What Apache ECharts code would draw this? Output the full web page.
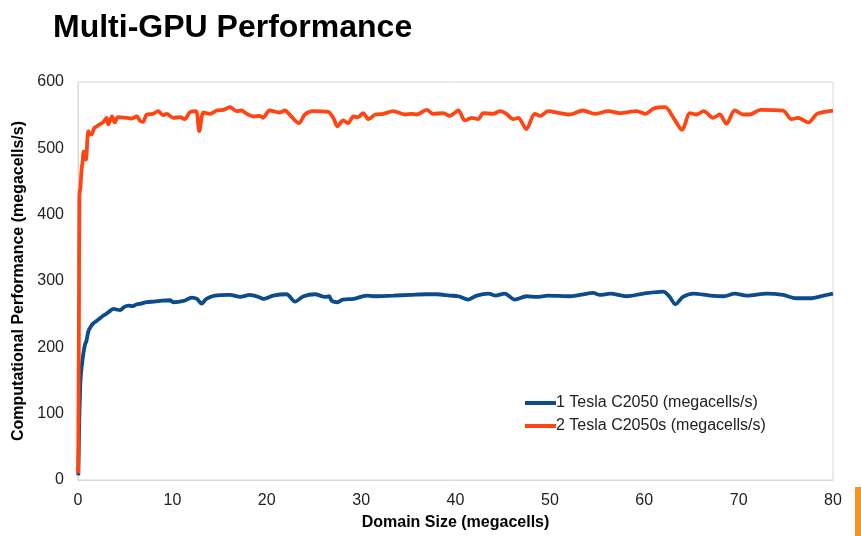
<!DOCTYPE html>
<html>
<head>
<meta charset="utf-8">
<script src="https://cdn.jsdelivr.net/npm/echarts@6/dist/echarts.min.js"></script>
<style>html,body{margin:0;padding:0;background:#fff}#c{width:861px;height:536px}</style>
</head>
<body>
<div id="c"></div>
<script>
var titleText = 'Multi-GPU Performance';
var xAxisName = 'Domain Size (megacells)';
var yAxisName = 'Computational Performance (megacells/s)';
var seriesNames = ['1 Tesla C2050 (megacells/s)', '2 Tesla C2050s (megacells/s)'];

var x1 = [0.03,0.1,0.14,0.2,0.28,0.5,0.74,0.9,1.09,1.3,1.62,2.0,2.33,2.7,3.04,3.4,3.74,4.1,4.45,4.9,5.33,5.8,6.22,6.7,7.28,8.0,8.69,9.75,10.1,11.2,12.05,12.6,13.1,13.6,14.5,16.1,17.2,18.2,19.3,19.6,20.7,22.1,23.0,23.9,25.1,26.2,26.6,26.9,27.5,28.05,29.2,30.6,31.3,33.4,35.2,36.95,38.0,39.4,40.3,41.35,42.25,43.5,44.2,45.2,46.3,47.5,48.6,49.8,52.1,53.2,54.6,55.3,56.4,58.1,59.9,62.0,62.65,63.3,64.1,65.2,67.0,68.4,69.6,70.85,73.0,74.7,76.1,77.6,79.0,80.0];
var y1 = [7,60,94,125,154,184,204,210,224,230,236,240,244,248,251,255,258,257,256,261,263,262,265,266,268,269,270,271,268,270,275,273,266,273,278,279,276,279,275,273,278,280,269,277,280,276,277,270,268,272,273,278,277,278,279,280,280,278,277,272,278,281,278,281,272,277,276,278,277,279,282,279,281,277,281,284,277,265,276,281,278,277,281,278,281,279,274,274,278,281];

var x2 = [0.02,0.1,0.15,0.25,0.39,0.5,0.6,0.74,0.85,1.0,1.09,1.3,1.45,1.7,1.98,2.3,2.65,3.04,3.2,3.6,3.9,4.24,5.19,5.69,6.22,6.6,6.9,7.28,7.95,8.5,9.0,9.4,10.1,10.8,11.3,11.9,12.5,12.85,13.3,14.0,14.7,15.4,16.1,16.8,17.3,17.9,18.6,19.3,19.6,20.3,21.4,21.9,22.6,23.4,24.05,24.9,26.5,27.05,27.5,28.1,28.6,29.2,29.7,30.2,30.8,31.5,32.35,33.4,34.65,35.35,35.9,36.95,37.65,38.7,39.4,40.3,41.0,41.7,42.4,42.95,44.0,44.7,45.4,46.1,46.65,47.5,48.4,49.0,49.8,51.1,52.1,53.5,54.8,56.2,57.4,59.2,60.1,61.0,62.2,63.1,64.0,64.85,65.55,66.3,67.3,68.0,68.7,69.6,70.5,71.2,72.3,74.7,75.6,76.3,77.4,78.3,80.0];
var y2 = [10,250,430,440,470,480,495,494,483,515,526,521,521,530,533,536,539,546,536,548,539,547,546,545,548,541,540,551,552,556,550,552,546,547,544,555,556,526,554,552,557,558,562,556,557,552,548,549,546,557,554,557,548,538,551,556,555,546,533,542,538,548,547,553,544,551,552,556,551,552,551,558,552,553,549,557,542,546,544,553,552,556,552,544,546,529,552,549,556,553,551,557,552,556,553,556,552,560,562,546,528,553,551,556,546,551,537,557,551,551,558,557,544,546,539,552,557];

function pairs(xs, ys){ var o=[]; for(var i=0;i<xs.length;i++) o.push([xs[i], ys[i]]); return o; }

var chart = echarts.init(document.getElementById('c'), null, {renderer:'canvas'});
chart.setOption({
  animation: false,
  backgroundColor: '#ffffff',
  title: {
    text: titleText, left: 48, top: 7,
    textStyle: {fontFamily: 'Liberation Sans, Arial, sans-serif', fontSize: 32, fontWeight: 'bold', color: '#000'}
  },
  grid: {left: 78, right: 28, top: 82, bottom: 52, show: true, borderColor: '#d9d9d9', borderWidth: 1},
  legend: {
    orient: 'vertical', left: 520, top: 390, itemGap: 7, itemWidth: 31, itemHeight: 4,
    icon: 'rect',
    textStyle: {fontFamily: 'Liberation Sans, Arial, sans-serif', fontSize: 16, color: '#222', padding: [0,0,0,-5]},
    data: seriesNames
  },
  xAxis: {
    type: 'value', min: 0, max: 80, interval: 10,
    name: xAxisName, nameLocation: 'middle', nameGap: 35,
    nameTextStyle: {fontFamily: 'Liberation Sans, Arial, sans-serif', fontSize: 16, fontWeight: 'bold', color: '#000'},
    axisLine: {show: true, lineStyle: {color: '#d9d9d9'}},
    axisTick: {show: false},
    splitLine: {show: false},
    axisLabel: {fontFamily: 'Liberation Sans, Arial, sans-serif', fontSize: 16, color: '#222', margin: 13}
  },
  yAxis: {
    type: 'value', min: 0, max: 600, interval: 100,
    name: yAxisName, nameLocation: 'middle', nameGap: 47, nameRotate: 90,
    nameTextStyle: {fontFamily: 'Liberation Sans, Arial, sans-serif', fontSize: 16, fontWeight: 'bold', color: '#000'},
    axisLine: {show: true, lineStyle: {color: '#d9d9d9'}},
    axisTick: {show: false},
    splitLine: {show: false},
    axisLabel: {fontFamily: 'Liberation Sans, Arial, sans-serif', fontSize: 16, color: '#222', margin: 14}
  },
  series: [
    {name: seriesNames[0], type: 'line', data: pairs(x1, y1), showSymbol: false, smooth: 0.3,
     lineStyle: {width: 3.8, color: '#0B4C8B'}, itemStyle: {color: '#0B4C8B'}},
    {name: seriesNames[1], type: 'line', data: pairs(x2, y2), showSymbol: false, smooth: 0.3,
     lineStyle: {width: 3.8, color: '#FF4612'}, itemStyle: {color: '#FF4612'}}
  ],
  graphic: [{type: 'rect', right: 0, bottom: 0, shape: {width: 6, height: 49}, style: {fill: '#F7941D'}}]
});
</script>
</body>
</html>
